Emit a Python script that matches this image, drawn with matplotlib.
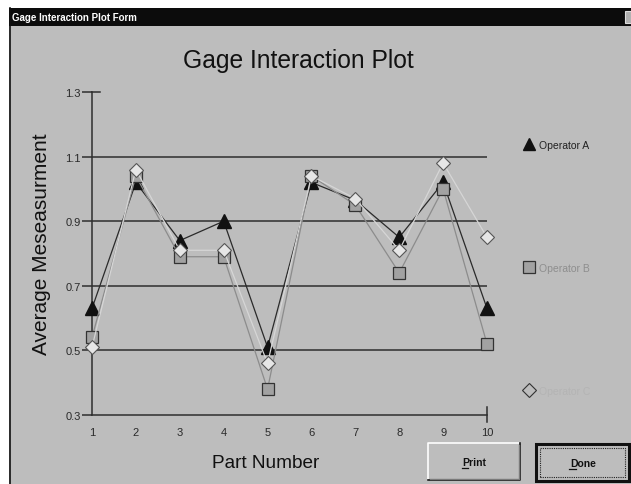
import matplotlib.pyplot as plt
from matplotlib.patches import Rectangle
from matplotlib.lines import Line2D

parts = [1, 2, 3, 4, 5, 6, 7, 8, 9, 10]
op_a = [0.63, 1.02, 0.84, 0.90, 0.51, 1.02, 0.965, 0.85, 1.02, 0.63]
op_b = [0.54, 1.04, 0.79, 0.79, 0.38, 1.04, 0.95, 0.74, 1.00, 0.52]
op_c = [0.51, 1.06, 0.81, 0.81, 0.46, 1.04, 0.97, 0.81, 1.08, 0.85]
y_ticks = [0.3, 0.5, 0.7, 0.9, 1.1, 1.3]
grid_vals = [0.5, 0.7, 0.9, 1.1]
labels = ["Operator A", "Operator B", "Operator C"]

W, H = 631, 485
BG = '#bdbdbd'


def fx(x):
    return x / W


def fy(y):
    return 1 - y / H


def rect(fig, x0, y0, x1, y1, **kw):
    fig.add_artist(Rectangle((fx(x0), fy(y1)), (x1 - x0) / W, (y1 - y0) / H,
                             transform=fig.transFigure, **kw))


def line(fig, xs, ys, **kw):
    fig.add_artist(Line2D([fx(x) for x in xs], [fy(y) for y in ys],
                          transform=fig.transFigure, **kw))


def main():
    plt.rcParams['font.family'] = ['Liberation Sans', 'DejaVu Sans']
    fig = plt.figure(figsize=(W / 100, H / 100), dpi=100)
    fig.patch.set_facecolor('white')

    # window frame
    rect(fig, 9, 27, 631, 485, facecolor=BG, edgecolor='none', zorder=-10)
    rect(fig, 9, 9, 631, 27, facecolor='#0c0c0c', edgecolor='none')
    line(fig, [9.5, 9.5], [9, 485], color='#111111', lw=1.2)
    rect(fig, 625, 12, 631, 24, facecolor='#b0b0b0', edgecolor='#dddddd', lw=0.8)
    fig.text(fx(12), fy(18), "Gage Interaction Plot Form", color='white',
             fontsize=7, fontweight='bold', ha='left', va='center')

    ax = fig.add_axes([fx(92), fy(416), (487 - 92) / W, (416 - 93) / H])
    ax.patch.set_visible(False)
    ax.set_zorder(5)

    for g in grid_vals:
        ax.axhline(g, color='#2e2e2e', lw=1.1, zorder=1)
    ax.axhline(1.3, xmin=0, xmax=0.02, color='#2e2e2e', lw=1.1, clip_on=False)
    ax.axvline(10, ymin=-0.022, ymax=0.025, color='#2e2e2e', lw=1.1, clip_on=False)

    ax.plot(parts, op_a, color='#2a2a2a', lw=0.9, marker='^', markersize=9.5,
            markerfacecolor='#111111', markeredgecolor='#111111', clip_on=False, zorder=3)
    ax.plot(parts, op_b, color='#8c8c8c', lw=0.9, marker='s', markersize=8.5,
            markerfacecolor='#a2a2a2', markeredgecolor='#333333', markeredgewidth=0.9,
            clip_on=False, zorder=4)
    ax.plot(parts, op_c, color='#d6d6d6', lw=0.9, marker='D', markersize=7,
            markerfacecolor='#e6e6e6', markeredgecolor='#555555', markeredgewidth=0.8,
            clip_on=False, zorder=5)

    ax.set_xlim(1, 10)
    ax.set_ylim(0.3, 1.3)
    ax.set_xticks(parts)
    ax.set_yticks(y_ticks)
    ax.set_yticklabels([f"{v:.1f}" for v in y_ticks])
    ax.tick_params(axis='y', direction='out', length=7, width=1.1, color='#2e2e2e',
                   labelsize=8, labelcolor='#2a2a2a', pad=1)
    ax.tick_params(axis='x', length=0, labelsize=8, labelcolor='#2a2a2a', pad=8.5)
    for s in ['top', 'right']:
        ax.spines[s].set_visible(False)
    for s in ['left', 'bottom']:
        ax.spines[s].set_color('#2e2e2e')
        ax.spines[s].set_linewidth(1.1)

    fig.text(fx(298), fy(61), "Gage Interaction Plot", fontsize=17.7, color='#111111',
             ha='center', va='center')
    fig.text(fx(42), fy(244), "Average Meseasurment", fontsize=15, color='#111111',
             rotation=90, ha='center', va='center')
    fig.text(fx(266), fy(463), "Part Number", fontsize=13.7, color='#111111',
             ha='center', va='center')

    # legend on the right
    handles = [
        Line2D([], [], ls='none', marker='^', markersize=9, markerfacecolor='#111111',
               markeredgecolor='#111111'),
        Line2D([], [], ls='none', marker='s', markersize=9, markerfacecolor='#a2a2a2',
               markeredgecolor='#333333', markeredgewidth=0.9),
        Line2D([], [], ls='none', marker='D', markersize=7, markerfacecolor=BG,
               markeredgecolor='#333333', markeredgewidth=0.8),
    ]
    leg = fig.legend(handles, labels, loc='upper left',
                     bbox_to_anchor=(fx(524), fy(141)), frameon=False, fontsize=7.5,
                     handlelength=1.0, handletextpad=0.4, labelspacing=10.85,
                     borderpad=0, borderaxespad=0)
    for t, c in zip(leg.get_texts(), ['#222222', '#8e8e8e', '#b4b4b4']):
        t.set_color(c)

    # Print button (raised)
    rect(fig, 428, 444, 520, 481, facecolor=BG, edgecolor='none')
    line(fig, [428, 428, 520], [481, 444, 444], color='white', lw=1.2)
    line(fig, [428, 520, 520], [481, 481, 444], color='#111111', lw=1.2)
    line(fig, [429.5, 518.5, 518.5], [479.5, 479.5, 445.5], color='#7a7a7a', lw=1)
    fig.text(fx(474), fy(463), "Print", fontsize=7.5, fontweight='bold',
             color='#111111', ha='center', va='center')
    line(fig, [462, 468], [469, 469], color='#111111', lw=0.9)

    # Done button (default, focused)
    rect(fig, 536, 445, 629, 482, facecolor=BG, edgecolor='#111111', lw=2.2)
    rect(fig, 540, 449, 625, 478, facecolor='none', edgecolor='#222222', lw=0.8,
         linestyle=(0, (1, 1)))
    fig.text(fx(583), fy(464), "Done", fontsize=7.5, fontweight='bold',
             color='#111111', ha='center', va='center')
    line(fig, [569, 576], [470, 470], color='#111111', lw=0.9)

    fig.savefig("out.png", dpi=100, facecolor=fig.get_facecolor())


if __name__ == '__main__':
    main()
